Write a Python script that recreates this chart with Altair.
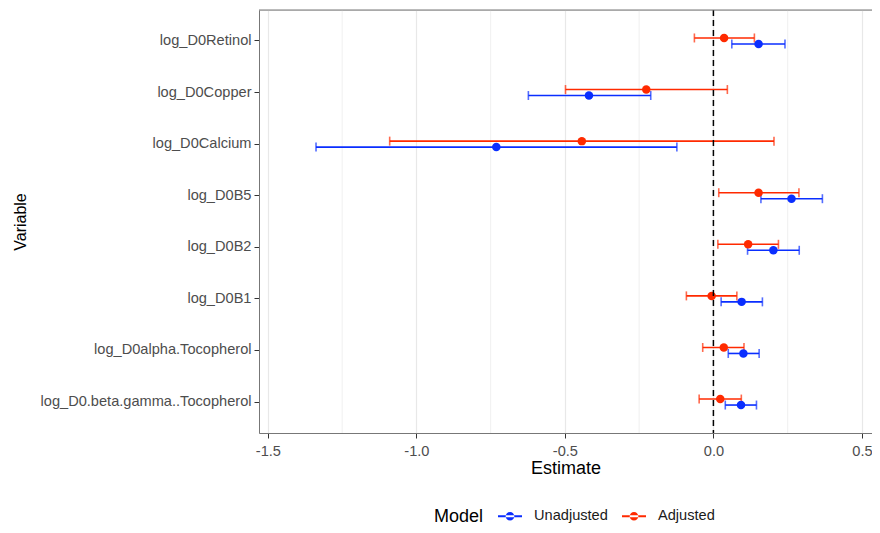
import altair as alt
import pandas as pd

variables = ["log_D0Retinol", "log_D0Copper", "log_D0Calcium", "log_D0B5",
             "log_D0B2", "log_D0B1", "log_D0alpha.Tocopherol",
             "log_D0.beta.gamma..Tocopherol"]

unadj_est = [0.152, -0.419, -0.731, 0.263, 0.202, 0.095, 0.101, 0.093]
unadj_lo = [0.062, -0.623, -1.338, 0.160, 0.115, 0.026, 0.050, 0.040]
unadj_hi = [0.241, -0.211, -0.123, 0.367, 0.289, 0.165, 0.154, 0.145]

adj_est = [0.036, -0.226, -0.443, 0.152, 0.117, -0.006, 0.035, 0.023]
adj_lo = [-0.064, -0.498, -1.090, 0.018, 0.015, -0.091, -0.036, -0.048]
adj_hi = [0.138, 0.047, 0.204, 0.288, 0.219, 0.079, 0.103, 0.094]

models = ["Unadjusted", "Adjusted"]
colors = ["#0A2EFF", "#FF2A00"]
major_ticks = [-1.5, -1.0, -0.5, 0.0, 0.5]
minor_ticks = [-1.25, -0.75, -0.25, 0.25]

rows = []
for i, v in enumerate(variables):
    rows.append({"Variable": v, "Model": "Unadjusted", "est": unadj_est[i],
                 "lo": unadj_lo[i], "hi": unadj_hi[i]})
for i, v in enumerate(variables):
    rows.append({"Variable": v, "Model": "Adjusted", "est": adj_est[i],
                 "lo": adj_lo[i], "hi": adj_hi[i]})
df = pd.DataFrame(rows)

W, H = 613, 423
FONT = "Liberation Sans"

xscale = alt.Scale(domain=[-1.530, 0.534], nice=False, zero=False)
yscale = alt.Scale(domain=variables, paddingInner=0.768, paddingOuter=0.484)
yoff_scale = alt.Scale(domain=["Adjusted", "Unadjusted"], paddingInner=0, paddingOuter=0)
color = alt.Color("Model:N", scale=alt.Scale(domain=models, range=colors),
                  legend=alt.Legend(
                      title="Model", orient="none", direction="horizontal",
                      titleOrient="left", legendX=175, legendY=494,
                      titleAnchor="middle", titleBaseline="line-top",
                      titleLineHeight=8,
                      titleFontSize=18, titleFontWeight="normal", titleColor="black",
                      titleFont=FONT, labelFont=FONT,
                      labelFontSize=14.6, labelColor="#1a1a1a",
                      symbolType="M-1,-0.085H1V0.085H-1Z M-0.36,0A0.36,0.36 0 1 0 0.36,0A0.36,0.36 0 1 0 -0.36,0Z",
                      symbolSize=576, symbolStrokeWidth=0, symbolOpacity=1,
                      columnPadding=14, titlePadding=14, labelOffset=12))

base = alt.Chart(df)

minor = alt.Chart(pd.DataFrame({"m": minor_ticks})).mark_rule(
    color="#eeeeee", strokeWidth=0.9).encode(
    x=alt.X("m:Q", scale=xscale))

yaxis = alt.Axis(title="Variable", labelFontSize=14.6, labelColor="#4d4d4d",
                 labelFont=FONT, titleFont=FONT, labelLimit=400,
                 titleFontSize=16, titleFontWeight="normal", titleColor="black",
                 tickColor="#333333", tickSize=5, labelPadding=3,
                 gridColor="#e8e8e8", gridWidth=1.2,
                 domain=True, domainColor="#777777", domainWidth=1,
                 bandPosition=0.5, titleX=-234, titleBaseline="alphabetic",
                 titlePadding=0)
xaxis = alt.Axis(title="Estimate", values=major_ticks, format=".1f",
                 labelExpr="replace(datum.label, '\u2212', '-')",
                 labelFontSize=14.6, labelColor="#4d4d4d",
                 labelFont=FONT, titleFont=FONT,
                 titleFontSize=18, titleFontWeight="normal", titleColor="black",
                 tickColor="#333333", tickSize=5, labelPadding=5,
                 gridColor="#e8e8e8", gridWidth=1.2,
                 domain=True, domainColor="#777777", domainWidth=1,
                 titlePadding=2, labelFlush=False)

enc_y = alt.Y("Variable:N", scale=yscale, sort=variables)
enc_yoff = alt.YOffset("Model:N", scale=yoff_scale)

rules = base.mark_rule(strokeWidth=1.6).encode(
    x=alt.X("lo:Q", scale=xscale, axis=xaxis),
    x2="hi:Q",
    y=alt.Y("Variable:N", scale=yscale, axis=yaxis, sort=variables),
    yOffset=enc_yoff,
    color=color,
)
cap_lo = base.mark_tick(thickness=1.6, size=9).encode(
    x=alt.X("lo:Q", scale=xscale), y=enc_y, yOffset=enc_yoff, color=color)
cap_hi = base.mark_tick(thickness=1.6, size=9).encode(
    x=alt.X("hi:Q", scale=xscale), y=enc_y, yOffset=enc_yoff, color=color)
points = base.mark_point(filled=True, size=72, opacity=1).encode(
    x=alt.X("est:Q", scale=xscale), y=enc_y, yOffset=enc_yoff, color=color)
zero = alt.Chart(pd.DataFrame({"z": [0.0]})).mark_rule(
    color="black", strokeDash=[6, 4], strokeWidth=1.5).encode(
    x=alt.X("z:Q", scale=xscale))
top_border = alt.Chart(pd.DataFrame({"z": [0]})).mark_rule(
    color="#777777", strokeWidth=1).encode(
    y=alt.value(0), x=alt.value(0), x2=alt.value(W))

chart = alt.layer(minor, rules, cap_lo, cap_hi, points, zero, top_border).properties(
    width=W, height=H,
    autosize=alt.AutoSizeParams(type="none"),
    padding={"left": 251, "top": 2, "right": 0, "bottom": 92},
).configure_view(stroke=None).configure(background="white")

chart.save("out.html", embed_options={"renderer": "svg", "actions": False})
